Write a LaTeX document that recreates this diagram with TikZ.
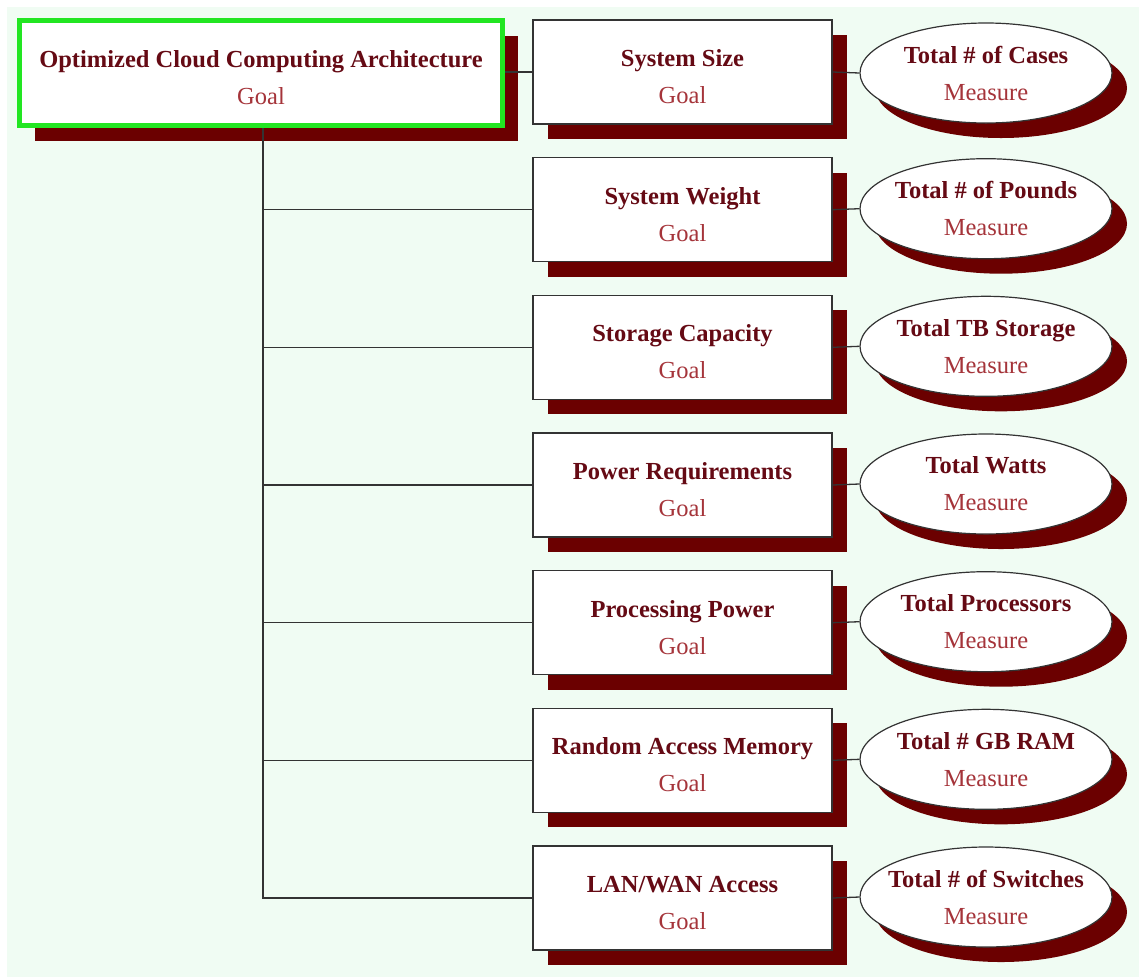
\documentclass[tikz,border=0pt]{standalone}
\usepackage{fontspec}
\setmainfont{Liberation Serif}
\usetikzlibrary{shapes.geometric,shadows}

\definecolor{bgmint}{HTML}{F0FCF3}
\definecolor{shadowred}{HTML}{6B0000}
\definecolor{titlered}{HTML}{650A14}
\definecolor{subred}{HTML}{A5343A}
\definecolor{rootgreen}{HTML}{22E622}
\definecolor{edgegray}{HTML}{333333}

\tikzset{
  boxshadow/.style={general shadow={fill=shadowred, shadow xshift=15pt, shadow yshift=-15pt}},
  labelfont/.style={font=\fontsize{24.5}{37}\selectfont, text=titlered, align=center},
  rootbox/.style={draw=rootgreen, line width=5pt, fill=white, minimum width=483pt,
    minimum height=105pt, inner sep=0pt, text height=63pt, boxshadow, labelfont},
  goalbox/.style={draw=edgegray, line width=1.3pt, fill=white, minimum width=299pt,
    minimum height=104pt, inner sep=0pt, text height=63pt, boxshadow, labelfont},
  measureshape/.style={ellipse, draw=edgegray, line width=1.2pt, fill=white,
    minimum width=252pt, minimum height=100pt, inner sep=0pt, boxshadow},
  measuretext/.style={inner sep=0pt, labelfont},
  link/.style={draw=edgegray, line width=1.3pt},
}

\newcommand{\goaltext}[1]{\textbf{#1}\\{\color{subred}Goal}}
\newcommand{\measuretext}[1]{\textbf{#1}\\{\color{subred}Measure}}

\begin{document}
\begin{tikzpicture}[x=1pt, y=-1pt]
  % page and tinted background
  \fill[white] (0,0) rectangle (1139,978);
  \fill[bgmint] (7,7) rectangle (1139,977);
  \useasboundingbox (0,0) rectangle (1139,978);

  % root goal
  \node[rootbox] (root) at (261,73) {\goaltext{Optimized Cloud Computing Architecture}};

  % sub-goals
  \node[goalbox] (g1) at (682.5,72)    {\goaltext{System Size}};
  \node[goalbox] (g2) at (682.5,209.7) {\goaltext{System Weight}};
  \node[goalbox] (g3) at (682.5,347.3) {\goaltext{Storage Capacity}};
  \node[goalbox] (g4) at (682.5,485)   {\goaltext{Power Requirements}};
  \node[goalbox] (g5) at (682.5,622.7) {\goaltext{Processing Power}};
  \node[goalbox] (g6) at (682.5,760.3) {\goaltext{Random Access Memory}};
  \node[goalbox] (g7) at (682.5,898)   {\goaltext{LAN/WAN Access}};

  % measures
  \node[measureshape] (m1) at (986,73)    {};
  \node[measureshape] (m2) at (986,208.7) {};
  \node[measureshape] (m3) at (986,346.3) {};
  \node[measureshape] (m4) at (986,484)   {};
  \node[measureshape] (m5) at (986,621.7) {};
  \node[measureshape] (m6) at (986,759.3) {};
  \node[measureshape] (m7) at (986,897)   {};
  \node[measuretext] (t1) at (m1) {\measuretext{Total \# of Cases}};
  \node[measuretext] (t2) at (m2) {\measuretext{Total \# of Pounds}};
  \node[measuretext] (t3) at (m3) {\measuretext{Total TB Storage}};
  \node[measuretext] (t4) at (m4) {\measuretext{Total Watts}};
  \node[measuretext] (t5) at (m5) {\measuretext{Total Processors}};
  \node[measuretext] (t6) at (m6) {\measuretext{Total \# GB RAM}};
  \node[measuretext] (t7) at (m7) {\measuretext{Total \# of Switches}};

  % connectors
  \draw[link] (root.east |- g1.west) -- (g1.west);
  \draw[link] ([xshift=2pt]root.south) -- ([xshift=2pt]root.south |- g7.west) -- (g7.west);
  \foreach \i in {2,...,6}
    \draw[link] ([xshift=2pt]root.south |- g\i.west) -- (g\i.west);
  \foreach \i in {1,...,7}
    \draw[link] (g\i.east) -- (m\i.west);
\end{tikzpicture}
\end{document}
